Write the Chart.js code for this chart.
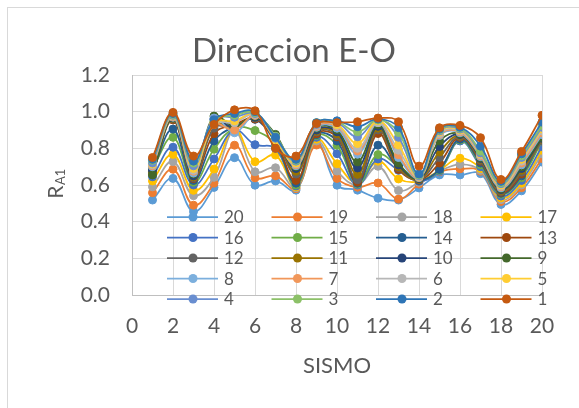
<!DOCTYPE html>
<html>
<head>
<meta charset="utf-8">
<script src="https://cdn.jsdelivr.net/npm/chart.js@4.4.0/dist/chart.umd.min.js"></script>
<style>
  html, body { margin: 0; padding: 0; background: #fff; }
  body { width: 579px; height: 408px; position: relative; overflow: hidden; }
  #frame { position: absolute; left: 7px; top: 7px; width: 640px; height: 460px; border: 1px solid #d9d9d9; }
  canvas { position: absolute; left: 0; top: 0; }
</style>
</head>
<body>
<div id="frame"></div>
<canvas id="chart" width="579" height="408"></canvas>
<script>
// SISMO 1..20, one array per series (R_A1 values)
const sismo = [1, 2, 3, 4, 5, 6, 7, 8, 9, 10, 11, 12, 13, 14, 15, 16, 17, 18, 19, 20];
const r1  = [0.750, 0.996, 0.758, 0.930, 1.010, 1.005, 0.800, 0.758, 0.935, 0.940, 0.945, 0.965, 0.945, 0.703, 0.912, 0.925, 0.858, 0.630, 0.783, 0.980];
const r2  = [0.740, 0.990, 0.730, 0.955, 0.990, 1.000, 0.860, 0.740, 0.940, 0.950, 0.918, 0.960, 0.913, 0.660, 0.905, 0.915, 0.812, 0.620, 0.770, 0.943];
const r3  = [0.735, 0.985, 0.720, 0.950, 0.980, 0.995, 0.865, 0.735, 0.940, 0.945, 0.890, 0.955, 0.886, 0.655, 0.900, 0.910, 0.785, 0.613, 0.760, 0.925];
const r4  = [0.720, 0.980, 0.705, 0.960, 0.970, 0.990, 0.855, 0.730, 0.930, 0.940, 0.863, 0.960, 0.860, 0.650, 0.895, 0.905, 0.775, 0.607, 0.750, 0.915];
const r5  = [0.715, 0.978, 0.690, 0.940, 0.950, 0.990, 0.845, 0.720, 0.930, 0.930, 0.826, 0.950, 0.818, 0.648, 0.890, 0.900, 0.770, 0.600, 0.740, 0.905];
const r6  = [0.710, 0.975, 0.680, 0.935, 0.940, 0.985, 0.850, 0.715, 0.925, 0.925, 0.800, 0.940, 0.790, 0.645, 0.880, 0.895, 0.765, 0.595, 0.730, 0.895];
const r7  = [0.705, 0.972, 0.675, 0.930, 0.900, 0.980, 0.860, 0.710, 0.920, 0.920, 0.785, 0.945, 0.765, 0.642, 0.875, 0.890, 0.760, 0.590, 0.720, 0.885];
const r8  = [0.700, 0.970, 0.665, 0.965, 0.885, 0.980, 0.865, 0.705, 0.915, 0.910, 0.768, 0.940, 0.750, 0.640, 0.870, 0.885, 0.755, 0.585, 0.710, 0.875];
const r9  = [0.655, 0.968, 0.660, 0.976, 0.920, 0.975, 0.876, 0.700, 0.910, 0.900, 0.726, 0.930, 0.720, 0.638, 0.840, 0.880, 0.750, 0.580, 0.700, 0.860];
const r10 = [0.680, 0.965, 0.650, 0.960, 0.910, 0.970, 0.870, 0.690, 0.900, 0.890, 0.693, 0.920, 0.710, 0.635, 0.810, 0.875, 0.745, 0.575, 0.690, 0.855];
const r11 = [0.670, 0.962, 0.645, 0.930, 0.915, 0.970, 0.860, 0.675, 0.895, 0.880, 0.658, 0.910, 0.700, 0.632, 0.780, 0.870, 0.740, 0.570, 0.680, 0.850];
const r12 = [0.665, 0.960, 0.640, 0.910, 0.920, 0.965, 0.850, 0.660, 0.890, 0.870, 0.629, 0.900, 0.695, 0.630, 0.750, 0.865, 0.735, 0.565, 0.670, 0.840];
const r13 = [0.660, 0.955, 0.635, 0.880, 0.930, 0.960, 0.840, 0.625, 0.880, 0.862, 0.615, 0.881, 0.685, 0.628, 0.720, 0.860, 0.730, 0.560, 0.660, 0.880];
const r14 = [0.675, 0.905, 0.625, 0.840, 0.920, 0.958, 0.830, 0.610, 0.875, 0.840, 0.610, 0.817, 0.690, 0.625, 0.685, 0.850, 0.720, 0.555, 0.650, 0.865];
const r15 = [0.690, 0.860, 0.615, 0.795, 0.910, 0.897, 0.820, 0.600, 0.870, 0.817, 0.605, 0.766, 0.700, 0.630, 0.680, 0.845, 0.710, 0.550, 0.640, 0.840];
const r16 = [0.645, 0.806, 0.600, 0.742, 0.900, 0.820, 0.800, 0.595, 0.860, 0.771, 0.600, 0.742, 0.680, 0.620, 0.675, 0.840, 0.700, 0.540, 0.625, 0.810];
const r17 = [0.622, 0.767, 0.571, 0.687, 0.905, 0.727, 0.763, 0.590, 0.850, 0.716, 0.610, 0.730, 0.633, 0.620, 0.680, 0.746, 0.690, 0.530, 0.610, 0.790];
const r18 = [0.590, 0.728, 0.542, 0.642, 0.895, 0.672, 0.694, 0.585, 0.840, 0.676, 0.600, 0.702, 0.570, 0.615, 0.675, 0.713, 0.680, 0.520, 0.600, 0.770];
const r19 = [0.558, 0.686, 0.490, 0.610, 0.817, 0.639, 0.650, 0.580, 0.818, 0.636, 0.588, 0.611, 0.523, 0.605, 0.672, 0.688, 0.675, 0.510, 0.585, 0.745];
const r20 = [0.518, 0.636, 0.455, 0.587, 0.749, 0.599, 0.622, 0.572, 0.835, 0.599, 0.572, 0.528, 0.518, 0.584, 0.655, 0.655, 0.662, 0.494, 0.568, 0.725];

const seriesNames = ['1', '2', '3', '4', '5', '6', '7', '8', '9', '10', '11', '12', '13', '14', '15', '16', '17', '18', '19', '20'];
const seriesValues = [r1, r2, r3, r4, r5, r6, r7, r8, r9, r10, r11, r12, r13, r14, r15, r16, r17, r18, r19, r20];
const seriesColors = ['#C55A11', '#2E75B6', '#8CC168', '#698ED0', '#FFCD33', '#B7B7B7', '#F1975A', '#7CAFDD', '#43682B', '#264478',
                      '#997300', '#636363', '#9E480E', '#255E91', '#70AD47', '#4472C4', '#FFC000', '#A5A5A5', '#ED7D31', '#5B9BD5'];
// legend reads 20 .. 1, four per row
const legendOrder = ['20', '19', '18', '17', '16', '15', '14', '13', '12', '11', '10', '9', '8', '7', '6', '5', '4', '3', '2', '1'];

const textColor = '#595959';
const fontFamily = 'Lato, "Open Sans", sans-serif';
Chart.defaults.font.family = fontFamily;
Chart.defaults.color = textColor;

const datasets = seriesNames.map((name, i) => ({
  label: name,
  data: sismo.map((x, j) => ({x: x, y: seriesValues[i][j]})),
  borderColor: seriesColors[i],
  backgroundColor: seriesColors[i],
  pointBackgroundColor: seriesColors[i],
  pointBorderColor: seriesColors[i],
  borderWidth: 1.75,
  pointRadius: 4,
  pointBorderWidth: 1,
  showLine: true,
  tension: 0.4
}));

// legend sits inside the plot area like in the workbook
const insideLegend = {
  id: 'insideLegend',
  afterDatasetsDraw(chart) {
    const ctx = chart.ctx;
    const area = chart.chartArea;
    const left = area.left + 35, top = area.top + 142;
    ctx.save();
    ctx.font = '17px ' + fontFamily;
    ctx.textBaseline = 'middle';
    legendOrder.forEach((name, k) => {
      const i = seriesNames.indexOf(name);
      const x0 = left + (k % 4) * 104.5;
      const y = top + Math.floor(k / 4) * 20.5;
      ctx.strokeStyle = seriesColors[i];
      ctx.lineWidth = 1.75;
      ctx.beginPath();
      ctx.moveTo(x0, y);
      ctx.lineTo(x0 + 51, y);
      ctx.stroke();
      ctx.fillStyle = seriesColors[i];
      ctx.beginPath();
      ctx.arc(x0 + 26, y, 4.5, 0, Math.PI * 2);
      ctx.fill();
      ctx.fillStyle = textColor;
      ctx.fillText(name, x0 + 57, y + 1);
    });
    ctx.restore();
  }
};

// rotated axis title with subscript: R_A1
const yTitle = {
  id: 'yTitle',
  afterDraw(chart) {
    const ctx = chart.ctx;
    const area = chart.chartArea;
    ctx.save();
    ctx.translate(63, (area.top + area.bottom) / 2 - 1);
    ctx.rotate(-Math.PI / 2);
    ctx.fillStyle = textColor;
    ctx.textBaseline = 'alphabetic';
    ctx.font = '21px ' + fontFamily;
    const wR = ctx.measureText('R').width;
    ctx.font = '13px ' + fontFamily;
    const wSub = ctx.measureText('A1').width;
    const start = -(wR + wSub) / 2;
    ctx.font = '21px ' + fontFamily;
    ctx.fillText('R', start, 0);
    ctx.font = '13px ' + fontFamily;
    ctx.fillText('A1', start + wR + 0.5, 1.5);
    ctx.restore();
  }
};

new Chart(document.getElementById('chart'), {
  type: 'scatter',
  data: { datasets: datasets },
  plugins: [insideLegend, yTitle],
  options: {
    responsive: false,
    animation: false,
    devicePixelRatio: 1,
    layout: { padding: { left: 46, right: 37, top: 0, bottom: 0 } },
    plugins: {
      legend: { display: false },
      tooltip: { enabled: false },
      title: {
        display: true,
        text: 'Direccion E-O',
        color: textColor,
        font: { size: 33, weight: 'normal' },
        padding: { top: 32, bottom: 3.4 }
      }
    },
    scales: {
      x: {
        type: 'linear',
        min: 0,
        max: 20,
        ticks: { stepSize: 2, padding: 19, font: { size: 21 }, color: textColor },
        grid: { color: '#d9d9d9', drawTicks: false },
        border: { color: '#bfbfbf' },
        title: { display: true, text: 'SISMO', font: { size: 22 }, color: textColor, padding: { top: 0, bottom: 29 } },
        afterFit(scale) { scale.height = 113; scale.paddingLeft = 0; scale.paddingRight = 0; }
      },
      y: {
        min: 0,
        max: 1.2,
        ticks: { stepSize: 0.2, padding: 22, font: { size: 21 }, color: textColor, callback: v => v.toFixed(1) },
        grid: { color: '#d9d9d9', drawTicks: false },
        border: { color: '#bfbfbf' },
        afterFit(scale) { scale.width = 86; }
      }
    }
  }
});
</script>
</body>
</html>
